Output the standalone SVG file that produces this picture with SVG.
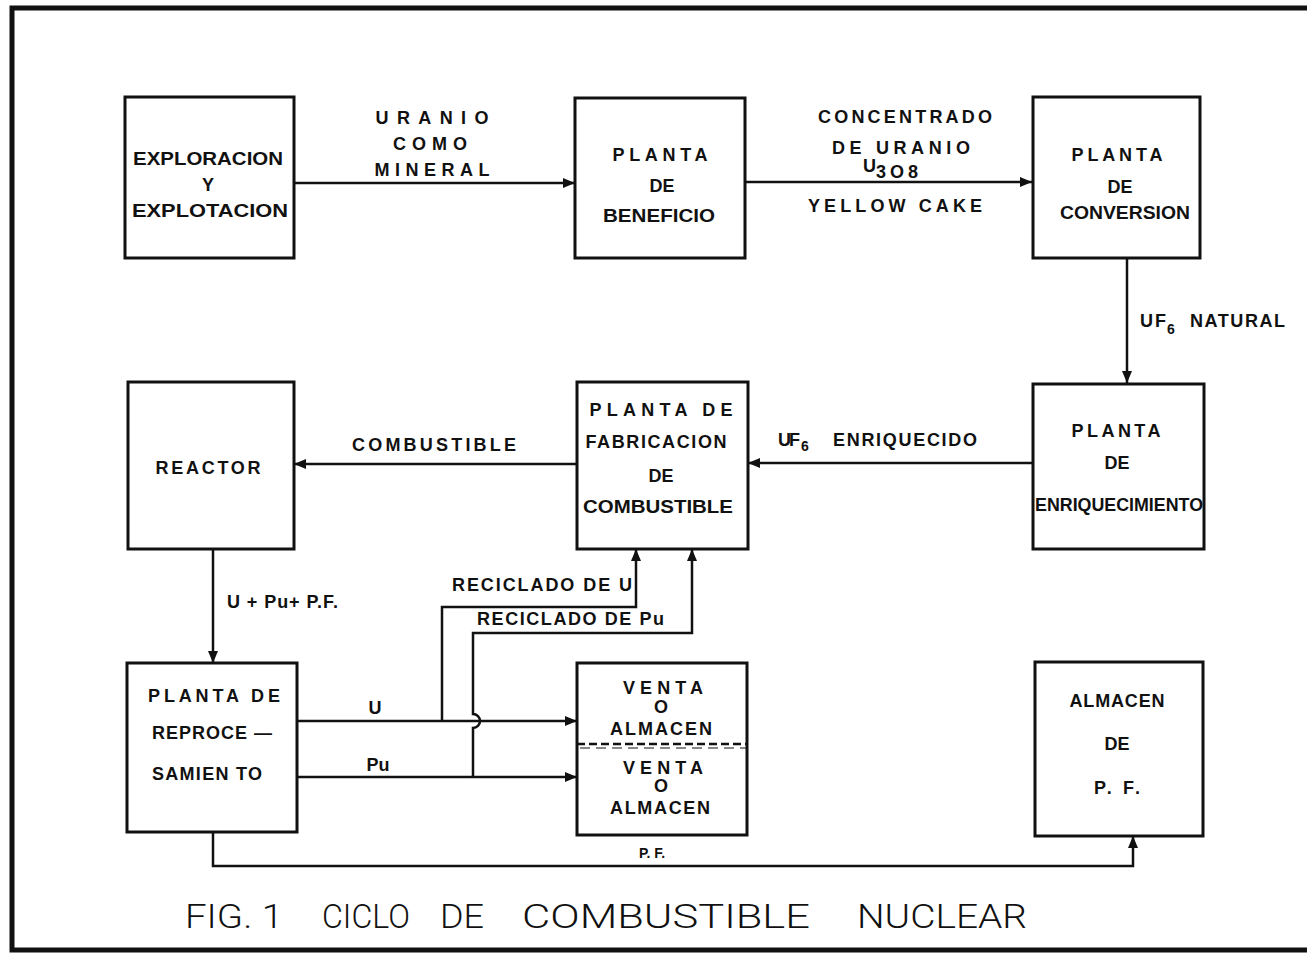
<svg xmlns="http://www.w3.org/2000/svg" width="1307" height="953" viewBox="0 0 1307 953">
<style>
.box{fill:none;stroke:#111;stroke-width:3}
.ln{fill:none;stroke:#111;stroke-width:2.5}
.t{font-family:"Liberation Sans",Arial,sans-serif;font-weight:bold;font-size:18px;fill:#111;text-anchor:middle}
.l{text-anchor:start}
.s{font-size:14px}
.title{font-family:Roboto,"Liberation Sans",Arial,sans-serif;font-size:33px;fill:#111;font-weight:300}
</style>
<defs>
<marker id="ah" viewBox="0 0 12 10" refX="12" refY="5" markerWidth="12" markerHeight="10" markerUnits="userSpaceOnUse" orient="auto">
<path d="M0,0 L12,5 L0,10 z" fill="#111"/>
</marker>
</defs>
<rect width="1307" height="953" fill="#fff"/>
<g id="frame">
<path d="M1307,8 L12,8 L12,950 L1307,950" fill="none" stroke="#111" stroke-width="5"/>
</g>
<g id="connectors">
<line class="ln" x1="294" y1="183" x2="575" y2="183" marker-end="url(#ah)"/>
<line class="ln" x1="745" y1="182" x2="1032" y2="182" marker-end="url(#ah)"/>
<line class="ln" x1="1127" y1="258" x2="1127" y2="383" marker-end="url(#ah)"/>
<line class="ln" x1="1033" y1="463" x2="748" y2="463" marker-end="url(#ah)"/>
<line class="ln" x1="577" y1="464" x2="294" y2="464" marker-end="url(#ah)"/>
<line class="ln" x1="213" y1="549" x2="213" y2="663" marker-end="url(#ah)"/>
<line class="ln" x1="297" y1="721" x2="577" y2="721" marker-end="url(#ah)"/>
<line class="ln" x1="297" y1="777" x2="577" y2="777" marker-end="url(#ah)"/>
<path class="ln" d="M442,721 L442,607 L636,607 L636,549" marker-end="url(#ah)"/>
<path class="ln" d="M473,777 L473,728 A7,7 0 0 0 473,714 L473,633 L692,633 L692,549" marker-end="url(#ah)"/>
<path class="ln" d="M213,832 L213,866 L1133,866 L1133,836" marker-end="url(#ah)"/>
</g>
<g id="exploracion">
<rect class="box" x="125" y="97" width="169" height="161"/>
<text class="t" x="208" y="165" textLength="150" lengthAdjust="spacingAndGlyphs">EXPLORACION</text>
<text class="t" x="208" y="191">Y</text>
<text class="t" x="210" y="217" textLength="156" lengthAdjust="spacingAndGlyphs">EXPLOTACION</text>
</g>
<g id="beneficio">
<rect class="box" x="575" y="98" width="170" height="160"/>
<text class="t" x="660" y="161" textLength="95">PLANTA</text>
<text class="t" x="662" y="192">DE</text>
<text class="t" x="659" y="222" textLength="112" lengthAdjust="spacingAndGlyphs">BENEFICIO</text>
</g>
<g id="conversion">
<rect class="box" x="1033" y="97" width="167" height="161"/>
<text class="t" x="1117" y="161" textLength="91">PLANTA</text>
<text class="t" x="1120" y="193">DE</text>
<text class="t" x="1125" y="219" textLength="130" lengthAdjust="spacingAndGlyphs">CONVERSION</text>
</g>
<g id="reactor">
<rect class="box" x="128" y="382" width="166" height="167"/>
<text class="t" x="208" y="474" textLength="105">REACTOR</text>
</g>
<g id="fabricacion">
<rect class="box" x="577" y="382" width="171" height="167"/>
<text class="t" x="661" y="416" textLength="143">PLANTA DE</text>
<text class="t" x="656" y="448" textLength="141">FABRICACION</text>
<text class="t" x="661" y="482">DE</text>
<text class="t" x="658" y="513" textLength="150" lengthAdjust="spacingAndGlyphs">COMBUSTIBLE</text>
</g>
<g id="enriquecimiento">
<rect class="box" x="1033" y="384" width="171" height="165"/>
<text class="t" x="1116" y="437" textLength="89">PLANTA</text>
<text class="t" x="1117" y="469">DE</text>
<text class="t" x="1119" y="511" textLength="168" lengthAdjust="spacingAndGlyphs">ENRIQUECIMIENTO</text>
</g>
<g id="reprocesamiento">
<rect class="box" x="127" y="663" width="170" height="169"/>
<text class="t l" x="148" y="702" textLength="132">PLANTA DE</text>
<text class="t l" x="152" y="739" textLength="120">REPROCE —</text>
<text class="t l" x="152" y="780" textLength="110">SAMIEN TO</text>
</g>
<g id="venta">
<rect class="box" x="577" y="663" width="170" height="172"/>
<line x1="577" y1="744" x2="747" y2="744" stroke="#111" stroke-width="2.5" stroke-dasharray="8,4"/>
<line x1="580" y1="748" x2="747" y2="748" stroke="#111" stroke-width="1" stroke-dasharray="10,6"/>
<text class="t" x="663" y="694" textLength="80">VENTA</text>
<text class="t" x="661" y="713" font-weight="normal">O</text>
<text class="t" x="661" y="735" textLength="102" font-weight="normal">ALMACEN</text>
<text class="t" x="663" y="774" textLength="80">VENTA</text>
<text class="t" x="661" y="792" font-weight="normal">O</text>
<text class="t" x="660" y="814" textLength="100" font-weight="normal">ALMACEN</text>
</g>
<g id="almacen_pf">
<rect class="box" x="1035" y="662" width="168" height="174"/>
<text class="t" x="1117" y="707" textLength="95">ALMACEN</text>
<text class="t" x="1117" y="750" font-weight="normal">DE</text>
<text class="t" x="1117" y="794" textLength="46" font-weight="normal">P. F.</text>
</g>
<g id="labels">
<text class="t" x="432" y="124" textLength="113">URANIO</text>
<text class="t" x="430" y="150" textLength="74">COMO</text>
<text class="t" x="432" y="176" textLength="115">MINERAL</text>
<text class="t" x="905" y="123" textLength="174">CONCENTRADO</text>
<text class="t" x="901" y="154" textLength="138">DE URANIO</text>
<text class="t l" x="863" y="172" font-weight="normal">U<tspan dy="6" textLength="42">3O8</tspan></text>
<text class="t" x="895" y="212" textLength="174">YELLOW CAKE</text>
<text class="t l" x="1140" y="327" textLength="26">U F</text>
<text class="t l s" x="1167" y="334">6</text>
<text class="t l" x="1190" y="327" font-size="16" textLength="95">NATURAL</text>
<text class="t" x="434" y="451" textLength="164">COMBUSTIBLE</text>
<text class="t l" x="778" y="446" textLength="22">UF</text>
<text class="t l s" x="801" y="451">6</text>
<text class="t l" x="833" y="446" textLength="144">ENRIQUECIDO</text>
<text class="t l" x="227" y="608" font-size="15" textLength="111">U + Pu+ P.F.</text>
<text class="t l" x="452" y="591" textLength="180" font-weight="normal">RECICLADO DE U</text>
<text class="t l" x="477" y="625" textLength="187">RECICLADO DE  Pu</text>
<text class="t" x="375" y="714" font-weight="normal">U</text>
<text class="t" x="378" y="771">Pu</text>
<text class="t s" x="652" y="858">P. F.</text>
</g>
<g id="title">
<text class="title" x="185" y="928" textLength="98" lengthAdjust="spacingAndGlyphs">FIG. 1</text>
<text class="title" x="322" y="928" textLength="88" lengthAdjust="spacingAndGlyphs">CICLO</text>
<text class="title" x="440" y="928" textLength="44" lengthAdjust="spacingAndGlyphs">DE</text>
<text class="title" x="522" y="928" textLength="288" lengthAdjust="spacingAndGlyphs">COMBUSTIBLE</text>
<text class="title" x="857" y="928" textLength="170" lengthAdjust="spacingAndGlyphs">NUCLEAR</text>
</g>
</svg>
